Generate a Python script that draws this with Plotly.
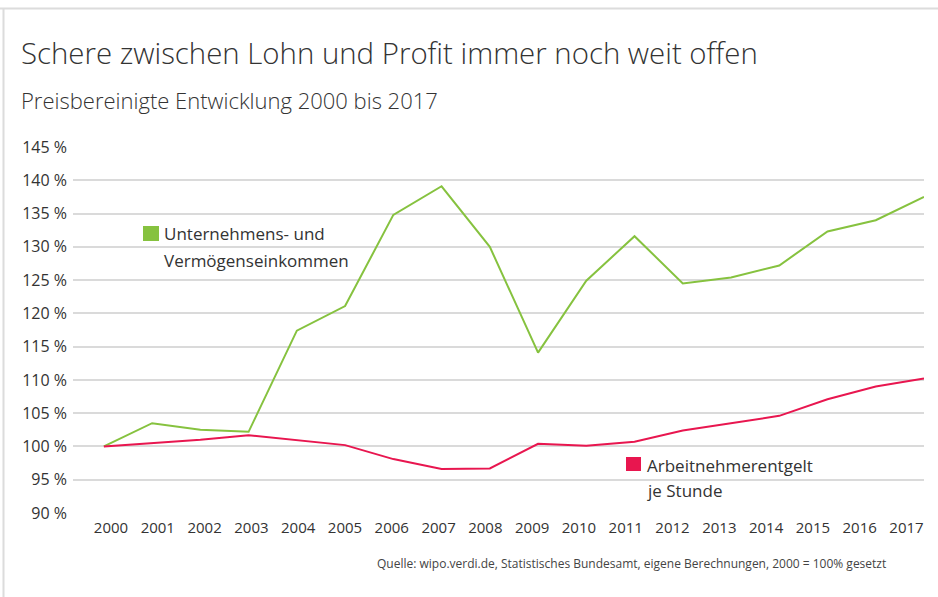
import plotly.graph_objects as go

# ---- data ----
years = list(range(2000, 2018))
profit = [100.0, 103.5, 102.5, 102.2, 117.4, 121.1, 134.8, 139.1, 130.0, 114.1,
          124.9, 131.6, 124.5, 125.4, 127.2, 132.3, 134.0, 137.5]
wages = [100.0, 100.5, 101.0, 101.7, 100.9, 100.2, 98.1, 96.6, 96.7, 100.4,
         100.1, 100.7, 102.4, 103.5, 104.6, 107.1, 109.0, 110.2]
y_tickvals = [90, 95, 100, 105, 110, 115, 120, 125, 130, 135, 140, 145]
y_ticktext = [f"{v} %" for v in y_tickvals]
x_ticktext = [str(y) for y in years]

title = "Schere zwischen Lohn und Profit immer noch weit offen"
subtitle = "Preisbereinigte Entwicklung 2000 bis 2017"
legend_profit = ["Unternehmens- und", "Vermögenseinkommen"]
legend_wages = ["Arbeitnehmerentgelt", "je Stunde"]
source = "Quelle: wipo.verdi.de, Statistisches Bundesamt, eigene Berechnungen, 2000 = 100% gesetzt"

GREEN = "#86c23f"
RED = "#e8164f"
TXT = "#333333"
FONT = "Open Sans"

W, H = 938, 597


def px(x):
    return x / W


def py(y):
    return 1 - y / H


fig = go.Figure()
fig.add_trace(go.Scatter(x=years, y=profit, mode="lines",
                         line=dict(color=GREEN, width=2), showlegend=False))
fig.add_trace(go.Scatter(x=years, y=wages, mode="lines",
                         line=dict(color=RED, width=2), showlegend=False))
# invisible helper so the label axis (evenly spread labels, as in the reference) is drawn
fig.add_trace(go.Scatter(x=years, y=wages, xaxis="x2", mode="lines", opacity=0,
                         line=dict(width=0), hoverinfo="skip", showlegend=False))

shapes = [
    # frame lines
    dict(type="line", xref="paper", yref="paper", x0=px(0), x1=1, y0=py(8.5), y1=py(8.5),
         line=dict(color="#dcdcdc", width=2)),
    dict(type="line", xref="paper", yref="paper", x0=px(3.5), x1=px(3.5), y0=0, y1=py(8.5),
         line=dict(color="#dcdcdc", width=2)),
    # white boxes behind legend labels
    dict(type="rect", xref="paper", yref="paper", x0=px(138), x1=px(365), y0=py(272), y1=py(222),
         fillcolor="white", line=dict(width=0), layer="between"),
    dict(type="rect", xref="paper", yref="paper", x0=px(621), x1=px(848), y0=py(500), y1=py(452),
         fillcolor="white", line=dict(width=0), layer="between"),
    # legend squares
    dict(type="rect", xref="paper", yref="paper", x0=px(143), x1=px(159), y0=py(241), y1=py(226),
         fillcolor=GREEN, line=dict(width=0)),
    dict(type="rect", xref="paper", yref="paper", x0=px(626), x1=px(641), y0=py(471), y1=py(457),
         fillcolor=RED, line=dict(width=0)),
]

annotations = [
    dict(text=title, x=px(19), y=py(53), xref="paper", yref="paper", xanchor="left",
         yanchor="middle", showarrow=False, font=dict(family=FONT, size=29.4, color=TXT, weight=300)),
    dict(text=subtitle, x=px(19), y=py(100), xref="paper", yref="paper", xanchor="left",
         yanchor="middle", showarrow=False, font=dict(family=FONT, size=22, color=TXT, weight=300)),
    dict(text=legend_profit[0], x=px(162), y=py(234), xref="paper", yref="paper", xanchor="left",
         yanchor="middle", showarrow=False, font=dict(family=FONT, size=17, color=TXT)),
    dict(text=legend_profit[1], x=px(162), y=py(260), xref="paper", yref="paper", xanchor="left",
         yanchor="middle", showarrow=False, font=dict(family=FONT, size=17, color=TXT)),
    dict(text=legend_wages[0], x=px(645), y=py(465), xref="paper", yref="paper", xanchor="left",
         yanchor="middle", showarrow=False, font=dict(family=FONT, size=17, color=TXT)),
    dict(text=legend_wages[1], x=px(645), y=py(490), xref="paper", yref="paper", xanchor="left",
         yanchor="middle", showarrow=False, font=dict(family=FONT, size=17, color=TXT)),
    dict(text=source, x=px(888), y=py(563), xref="paper", yref="paper", xanchor="right",
         yanchor="middle", showarrow=False, font=dict(family=FONT, size=12, color="#444444")),
]

fig.update_layout(
    template="none",
    width=W, height=H,
    margin=dict(l=0, r=0, t=0, b=0, pad=0, autoexpand=False),
    paper_bgcolor="white", plot_bgcolor="white",
    shapes=shapes, annotations=annotations,
    font=dict(family=FONT, color=TXT),
    xaxis=dict(domain=[px(73), px(924)], range=[1999.36, 2017], showgrid=False,
               zeroline=False, showline=False, showticklabels=False, ticks="",
               automargin=False, fixedrange=True),
    xaxis2=dict(domain=[px(73), px(924)], range=[1999.188, 2017.374], overlaying="x",
                anchor="y", side="bottom", showgrid=False, zeroline=False, showline=False,
                tickvals=years, ticktext=x_ticktext, tickfont=dict(size=15, color=TXT),
                ticks="", ticklabelstandoff=4, tickangle=0, automargin=False,
                fixedrange=True),
    yaxis=dict(domain=[py(513), py(147)], range=[90, 145], showgrid=True,
               gridcolor="#dadada", gridwidth=1.6, zeroline=False, showline=False,
               tickvals=y_tickvals, ticktext=y_ticktext,
               tickfont=dict(size=16, color=TXT), ticks="", ticklabelstandoff=5,
               automargin=False, fixedrange=True),
)

fig.write_html(
    "out.html",
    config={"displayModeBar": False},
    post_script="document.body.style.margin='0px';document.body.style.overflow='hidden';",
)
